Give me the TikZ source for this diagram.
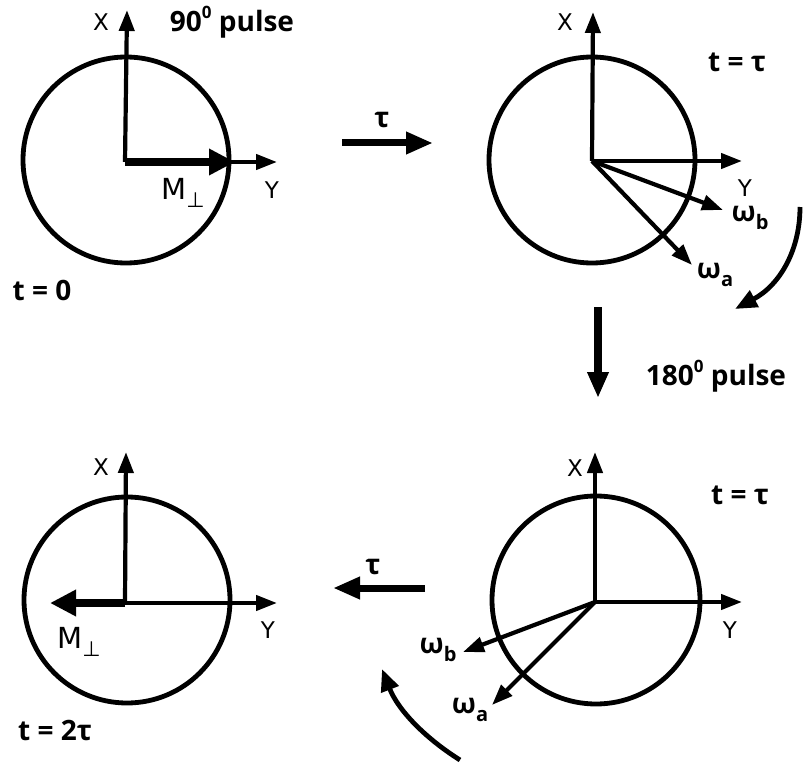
\documentclass[tikz,border=0pt]{standalone}
\usepackage{fontspec}
\setmainfont{DejaVu Sans}
\newfontfamily\lab{Open Sans}
\usetikzlibrary{arrows.meta}
\newcommand{\supz}{\raisebox{0.45em}{\fontsize{17}{17}\selectfont 0}}
\newcommand{\subl}[1]{\raisebox{-0.28em}{\fontsize{20}{20}\selectfont #1}}
\newcommand{\perpsub}{\raisebox{-0.3em}{\fontsize{21}{21}\selectfont ⊥}}
\begin{document}
\begin{tikzpicture}[x=1pt,y=-1pt,
  circ/.style={line width=4.8pt},
  axis/.style={line width=4.2pt,-{Triangle[length=21pt,width=15pt]}},
  mvec/.style={line width=8.5pt,-{Triangle[length=26pt,width=25pt]}},
  delay/.style={line width=7pt,-{Triangle[length=27pt,width=21pt]}},
  pulse/.style={line width=8.5pt,-{Triangle[length=26pt,width=20pt]}},
  rot/.style={line width=4.8pt,-{Triangle[length=22pt,width=18pt]}},
  axlab/.style={font=\fontsize{23}{23}\selectfont,inner sep=0pt},
  mlab/.style={font=\fontsize{29}{29}\selectfont,inner sep=0pt},
  boldlab/.style={font=\lab\bfseries\fontsize{28}{28}\selectfont,inner sep=0pt}]
\useasboundingbox (0,0) rectangle (803,765);

% ---------- panel 1: t = 0 ----------
\coordinate (c1) at (125,162);
\coordinate (x1) at (127,10);
\coordinate (y1) at (277,162);
\coordinate (m1) at (235,162);
\draw[circ] (126,160) circle (103pt);
\draw[axis] (c1) -- (x1);
\draw[axis] (c1) -- (y1);
\draw[mvec] (c1) -- (m1);
\node[axlab] (lx1) at (101,22) {X};
\node[axlab] (ly1) at (272,190) {Y};
\node[mlab] (lm1) at (183,193) {M\perpsub};
\node[boldlab] (p90) at (232,22) {90\supz{} pulse};
\node[boldlab] (t0) at (42,290) {t = 0};

% ---------- delay arrow 1 ----------
\coordinate (d1s) at (342,143);
\coordinate (d1e) at (433,143);
\draw[delay] (d1s) -- (d1e);
\node[boldlab] (tau1) at (382,120) {τ};

% ---------- panel 2: t = tau ----------
\coordinate (c2) at (592,161);
\coordinate (x2) at (593,12);
\coordinate (y2) at (742,161);
\coordinate (wb2) at (723,210);
\coordinate (wa2) at (692,265);
\draw[circ] (592,160) circle (103pt);
\draw[axis] (c2) -- (x2);
\draw[axis] (c2) -- (y2);
\draw[axis] (c2) -- (wb2);
\draw[axis] (c2) -- (wa2);
\node[axlab] (lx2) at (565,22) {X};
\node[axlab] (ly2) at (745,188) {Y};
\node[boldlab] (tt2) at (737,62) {t = τ};
\node[boldlab] (lwb2) at (750,218) {ω\subl{b}};
\node[boldlab] (lwa2) at (715,275) {ω\subl{a}};
\coordinate (r1s) at (800,207);
\coordinate (r1e) at (735,309);
\draw[rot] (r1s) .. controls (800,250) and (780,285) .. (r1e);

% ---------- 180 pulse ----------
\coordinate (ps) at (598,307);
\coordinate (pe) at (598,398);
\draw[pulse] (ps) -- (pe);
\node[boldlab] (p180) at (716,376) {180\supz{} pulse};

% ---------- panel 4: t = tau after pulse ----------
\coordinate (c4) at (595,602);
\coordinate (x4) at (595,452);
\coordinate (y4) at (742,602);
\coordinate (wb4) at (463,652);
\coordinate (wa4) at (492,705);
\draw[circ] (596,600) circle (104pt);
\draw[axis] (c4) -- (x4);
\draw[axis] (c4) -- (y4);
\draw[axis] (c4) -- (wb4);
\draw[axis] (c4) -- (wa4);
\node[axlab] (lx4) at (575,468) {X};
\node[axlab] (ly4) at (730,630) {Y};
\node[boldlab] (tt4) at (740,495) {t = τ};
\node[boldlab] (lwb4) at (438,650) {ω\subl{b}};
\node[boldlab] (lwa4) at (470,710) {ω\subl{a}};
\coordinate (r2s) at (460,760);
\coordinate (r2e) at (382,669);
\draw[rot] (r2s) .. controls (425,738) and (398,710) .. (r2e);

% ---------- delay arrow 2 ----------
\coordinate (d2s) at (425,588);
\coordinate (d2e) at (333,588);
\draw[delay] (d2s) -- (d2e);
\node[boldlab] (tau2) at (373,567) {τ};

% ---------- panel 3: t = 2 tau ----------
\coordinate (c3) at (125,603);
\coordinate (x3) at (126,452);
\coordinate (y3) at (277,603);
\coordinate (m3) at (50,603);
\draw[circ] (127,600) circle (103pt);
\draw[axis] (c3) -- (x3);
\draw[axis] (c3) -- (y3);
\draw[mvec] (c3) -- (m3);
\node[axlab] (lx3) at (101,467) {X};
\node[axlab] (ly3) at (268,630) {Y};
\node[mlab] (lm3) at (79,642) {M\perpsub};
\node[boldlab] (t2) at (55,730) {t = 2τ};
\end{tikzpicture}
\end{document}
